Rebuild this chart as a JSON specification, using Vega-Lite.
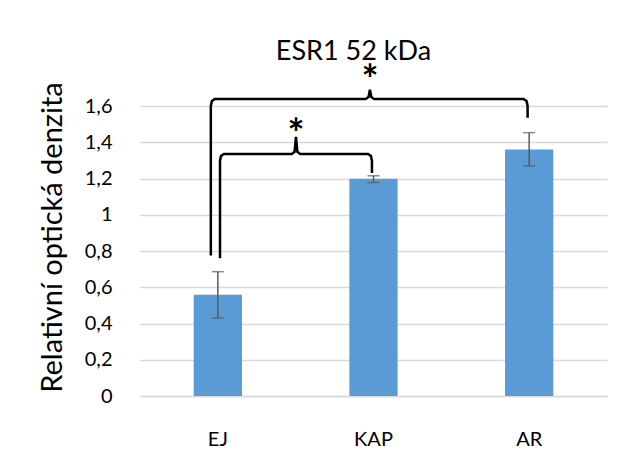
{
  "$schema": "https://vega.github.io/schema/vega-lite/v6.json",
  "width": 467,
  "height": 290,
  "autosize": "none",
  "padding": {"left": 140, "top": 106, "right": 17, "bottom": 54},
  "background": "white",
  "config": {"view": {"stroke": null}, "font": "Lato"},
  "title": {"text": "ESR1 52 kDa", "fontSize": 27, "font": "Lato", "fontWeight": "normal", "color": "#000000", "offset": -4, "anchor": "middle", "frame": "group", "dx": -20},
  "datasets": {
    "bars": [
      {"skupina": "EJ", "hodnota": 0.558, "lo": 0.43, "hi": 0.686},
      {"skupina": "KAP", "hodnota": 1.198, "lo": 1.178, "hi": 1.215},
      {"skupina": "AR", "hodnota": 1.36, "lo": 1.27, "hi": 1.453}
    ],
    "brackets": [
      {"b": "big", "o": 1, "bx": 0.455, "by": 0.775},
      {"b": "big", "o": 2, "bx": 0.455, "by": 1.6},
      {"b": "big", "o": 3, "bx": 0.462, "by": 1.628},
      {"b": "big", "o": 4, "bx": 0.48, "by": 1.638},
      {"b": "big", "o": 5, "bx": 1.45, "by": 1.638},
      {"b": "big", "o": 6, "bx": 1.468, "by": 1.65},
      {"b": "big", "o": 7, "bx": 1.477, "by": 1.69},
      {"b": "big", "o": 8, "bx": 1.486, "by": 1.65},
      {"b": "big", "o": 9, "bx": 1.504, "by": 1.638},
      {"b": "big", "o": 10, "bx": 2.465, "by": 1.638},
      {"b": "big", "o": 11, "bx": 2.483, "by": 1.628},
      {"b": "big", "o": 12, "bx": 2.49, "by": 1.6},
      {"b": "big", "o": 13, "bx": 2.49, "by": 1.535},
      {"b": "small", "o": 1, "bx": 0.514, "by": 0.76},
      {"b": "small", "o": 2, "bx": 0.514, "by": 1.3},
      {"b": "small", "o": 3, "bx": 0.521, "by": 1.325},
      {"b": "small", "o": 4, "bx": 0.539, "by": 1.335},
      {"b": "small", "o": 5, "bx": 0.975, "by": 1.335},
      {"b": "small", "o": 6, "bx": 0.993, "by": 1.347},
      {"b": "small", "o": 7, "bx": 1.002, "by": 1.43},
      {"b": "small", "o": 8, "bx": 1.011, "by": 1.347},
      {"b": "small", "o": 9, "bx": 1.029, "by": 1.335},
      {"b": "small", "o": 10, "bx": 1.465, "by": 1.335},
      {"b": "small", "o": 11, "bx": 1.483, "by": 1.325},
      {"b": "small", "o": 12, "bx": 1.49, "by": 1.3},
      {"b": "small", "o": 13, "bx": 1.49, "by": 1.23}
    ],
    "stars": [
      {"sx": 1.477, "sy": 1.78, "t": "*"},
      {"sx": 1.002, "sy": 1.485, "t": "*"}
    ]
  },
  "layer": [
    {
      "encoding": {
        "x": {
          "field": "skupina", "type": "nominal", "sort": null,
          "scale": {"paddingInner": 0.69, "paddingOuter": 0.345},
          "axis": {"title": null, "labelAngle": 0, "labelFontSize": 20, "labelFontWeight": "normal", "labelColor": "#000000", "labelPadding": 33, "ticks": false, "domainColor": "#d9d9d9", "domainWidth": 1.5}
        }
      },
      "layer": [
        {
          "data": {"name": "bars"},
          "mark": {"type": "bar", "color": "#5B9BD5"},
          "encoding": {
            "y": {
              "field": "hodnota", "type": "quantitative",
              "scale": {"domain": [0, 1.6], "nice": false},
              "axis": {
                "title": "Relativní optická denzita", "titleFontSize": 29, "titleFontWeight": "normal", "titleColor": "#000000", "titlePadding": 17, "titleY": 131,
                "values": [0, 0.2, 0.4, 0.6, 0.8, 1, 1.2, 1.4, 1.6],
                "labelExpr": "replace(format(datum.value, '.1~f'), '.', ',')",
                "labelFontSize": 20, "labelFontWeight": "normal", "labelColor": "#000000", "labelPadding": 28, "labelOverlap": false,
                "ticks": false, "domain": false, "gridColor": "#d9d9d9", "gridWidth": 1.5
              }
            }
          }
        },
        {
          "data": {"name": "bars"},
          "mark": {"type": "rule", "color": "#595959", "strokeWidth": 1.5},
          "encoding": {
            "y": {
              "field": "lo", "type": "quantitative",
              "axis": {
                "title": "Relativní optická denzita", "titleFontSize": 29, "titleFontWeight": "normal", "titleColor": "#000000", "titlePadding": 17, "titleY": 131,
                "values": [0, 0.2, 0.4, 0.6, 0.8, 1, 1.2, 1.4, 1.6],
                "labelExpr": "replace(format(datum.value, '.1~f'), '.', ',')",
                "labelFontSize": 20, "labelFontWeight": "normal", "labelColor": "#000000", "labelPadding": 28, "labelOverlap": false,
                "ticks": false, "domain": false, "gridColor": "#d9d9d9", "gridWidth": 1.5
              }
            },
            "y2": {"field": "hi"}
          }
        },
        {
          "data": {"name": "bars"},
          "mark": {"type": "tick", "color": "#595959", "thickness": 1.5, "size": 12, "orient": "horizontal"},
          "encoding": {
            "y": {
              "field": "lo", "type": "quantitative",
              "axis": {
                "title": "Relativní optická denzita", "titleFontSize": 29, "titleFontWeight": "normal", "titleColor": "#000000", "titlePadding": 17, "titleY": 131,
                "values": [0, 0.2, 0.4, 0.6, 0.8, 1, 1.2, 1.4, 1.6],
                "labelExpr": "replace(format(datum.value, '.1~f'), '.', ',')",
                "labelFontSize": 20, "labelFontWeight": "normal", "labelColor": "#000000", "labelPadding": 28, "labelOverlap": false,
                "ticks": false, "domain": false, "gridColor": "#d9d9d9", "gridWidth": 1.5
              }
            }
          }
        },
        {
          "data": {"name": "bars"},
          "mark": {"type": "tick", "color": "#595959", "thickness": 1.5, "size": 12, "orient": "horizontal"},
          "encoding": {
            "y": {
              "field": "hi", "type": "quantitative",
              "axis": {
                "title": "Relativní optická denzita", "titleFontSize": 29, "titleFontWeight": "normal", "titleColor": "#000000", "titlePadding": 17, "titleY": 131,
                "values": [0, 0.2, 0.4, 0.6, 0.8, 1, 1.2, 1.4, 1.6],
                "labelExpr": "replace(format(datum.value, '.1~f'), '.', ',')",
                "labelFontSize": 20, "labelFontWeight": "normal", "labelColor": "#000000", "labelPadding": 28, "labelOverlap": false,
                "ticks": false, "domain": false, "gridColor": "#d9d9d9", "gridWidth": 1.5
              }
            }
          }
        }
      ]
    },
    {
      "encoding": {
        "x": {"type": "quantitative", "scale": {"domain": [0, 3], "nice": false, "zero": false}, "axis": null}
      },
      "layer": [
        {
          "data": {"name": "brackets"},
          "mark": {"type": "line", "color": "#000000", "strokeWidth": 2.5, "clip": false},
          "encoding": {
            "x": {"field": "bx", "type": "quantitative"},
            "y": {
              "field": "by", "type": "quantitative",
              "axis": {
                "title": "Relativní optická denzita", "titleFontSize": 29, "titleFontWeight": "normal", "titleColor": "#000000", "titlePadding": 17, "titleY": 131,
                "values": [0, 0.2, 0.4, 0.6, 0.8, 1, 1.2, 1.4, 1.6],
                "labelExpr": "replace(format(datum.value, '.1~f'), '.', ',')",
                "labelFontSize": 20, "labelFontWeight": "normal", "labelColor": "#000000", "labelPadding": 28, "labelOverlap": false,
                "ticks": false, "domain": false, "gridColor": "#d9d9d9", "gridWidth": 1.5
              }
            },
            "detail": {"field": "b"},
            "order": {"field": "o"}
          }
        },
        {
          "data": {"name": "stars"},
          "mark": {"type": "text", "color": "#000000", "fontSize": 40, "fontWeight": "bold", "font": "Lato", "baseline": "middle", "dy": 9, "clip": false},
          "encoding": {
            "x": {"field": "sx", "type": "quantitative"},
            "y": {
              "field": "sy", "type": "quantitative",
              "axis": {
                "title": "Relativní optická denzita", "titleFontSize": 29, "titleFontWeight": "normal", "titleColor": "#000000", "titlePadding": 17, "titleY": 131,
                "values": [0, 0.2, 0.4, 0.6, 0.8, 1, 1.2, 1.4, 1.6],
                "labelExpr": "replace(format(datum.value, '.1~f'), '.', ',')",
                "labelFontSize": 20, "labelFontWeight": "normal", "labelColor": "#000000", "labelPadding": 28, "labelOverlap": false,
                "ticks": false, "domain": false, "gridColor": "#d9d9d9", "gridWidth": 1.5
              }
            },
            "text": {"field": "t"}
          }
        }
      ]
    }
  ],
  "resolve": {"scale": {"x": "independent"}}
}
